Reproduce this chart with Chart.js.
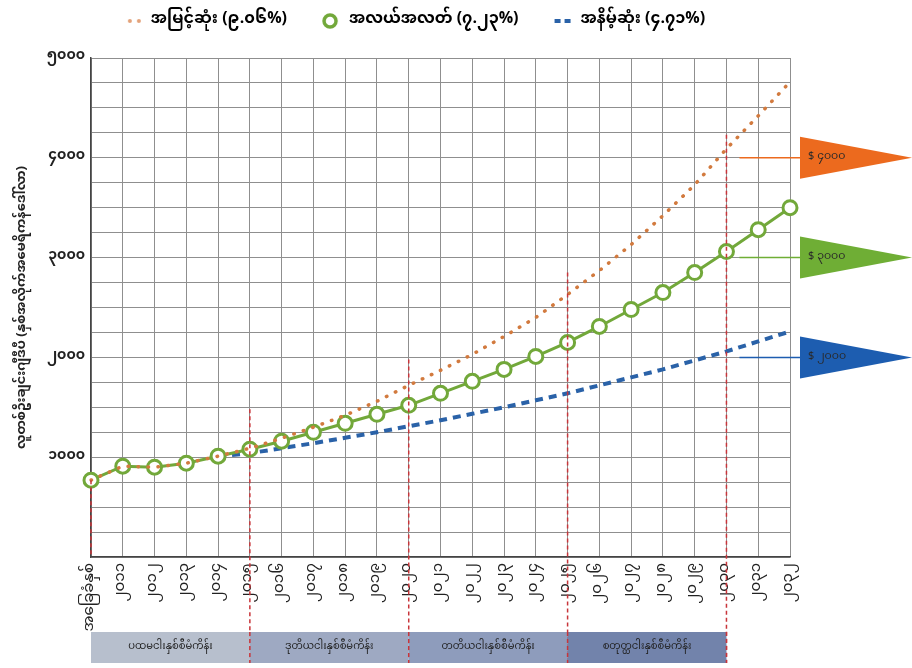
<!DOCTYPE html>
<html>
<head>
<meta charset="utf-8">
<script src="https://cdn.jsdelivr.net/npm/chart.js@4.4.0/dist/chart.umd.min.js"></script>
<style>
  body { margin: 0; background: #fff; }
  canvas { display: block; }
</style>
</head>
<body>
<canvas id="gdpChart" width="912" height="668"></canvas>
<script>
const FONT = "'Noto Sans Myanmar', 'Myanmar Text', 'Padauk', 'Noto Sans', sans-serif";

// x categories: base year then 2011..2032
const years = ['အခြေခံနှစ်', '၂၀၁၁', '၂၀၁၂', '၂၀၁၃', '၂၀၁၄', '၂၀၁၅', '၂၀၁၆', '၂၀၁၇', '၂၀၁၈', '၂၀၁၉',
  '၂၀၂၀', '၂၀၂၁', '၂၀၂၂', '၂၀၂၃', '၂၀၂၄', '၂၀၂၅', '၂၀၂၆', '၂၀၂၇', '၂၀၂၈', '၂၀၂၉',
  '၂၀၃၀', '၂၀၃၁', '၂၀၃၂'];

const highSeries = [770, 910, 900, 940, 1010, 1090, 1190, 1300, 1420, 1560, 1720, 1870,
  2030, 2210, 2400, 2630, 2870, 3130, 3420, 3730, 4090, 4420, 4760];
const midSeries = [770, 910, 900, 940, 1010, 1080, 1160, 1250, 1340, 1430, 1520, 1640,
  1760, 1880, 2010, 2150, 2310, 2480, 2650, 2850, 3060, 3280, 3500];
const lowSeries = [null, null, null, null, 1010, 1040, 1090, 1140, 1195, 1250, 1310, 1370,
  1435, 1500, 1570, 1640, 1720, 1800, 1880, 1970, 2060, 2160, 2260];

const seriesNames = ['အမြင့်ဆုံး (၉.၀၆%)', 'အလယ်အလတ် (၇.၂၃%)', 'အနိမ့်ဆုံး (၄.၇၁%)'];
const yTickLabels = ['', '၁၀၀၀', '၂၀၀၀', '၃၀၀၀', '၄၀၀၀', '၅၀၀၀'];
const yTitle = 'လူတစ်ဦးချင်းဂျီဒီပီ (နှစ်အလိုက်အမေရိကန်ဒေါ်လာ)';

// five-year plans shown in the band under the axis
const planNames = ['ပထမငါးနှစ်စီမံကိန်း', 'ဒုတိယငါးနှစ်စီမံကိန်း', 'တတိယငါးနှစ်စီမံကိန်း', 'စတုတ္ထငါးနှစ်စီမံကိန်း'];
const planStarts = [0, 5, 10, 15];
const dividerIdx = [0, 5, 10, 15, 20];
const dividerTops = [770, 1480, 1980, 2850, 4230];

// target flags on the right
const targetValues = [4000, 3000, 2000];
const targetLabels = ['$ ၄၀၀၀', '$ ၃၀၀၀', '$ ၂၀၀၀'];

const highColor = '#d27a3e';
const midColor = '#72a83a';
const lowColor = '#2a62a8';
const dividerColor = '#c8353a';
const flagColors = ['#ec6a1e', '#6fae35', '#1d5db0'];
const planColors = ['#b7bfcd', '#9ea9c2', '#8e9cbc', '#7283ab'];
const gridColor = '#8f8f8f';

// legend markers, drawn right-aligned in a wide box so the items get more room between them
const MARKER_W = 44;
function makeMarker(draw) {
  const c = document.createElement('canvas');
  c.width = MARKER_W;
  c.height = 18;
  draw(c.getContext('2d'));
  return c;
}
const dotsMarker = makeMarker(ctx => {
  ctx.fillStyle = '#e3a27a';
  [31, 40].forEach(x => { ctx.beginPath(); ctx.arc(x, 9, 2, 0, Math.PI * 2); ctx.fill(); });
});
const ringMarker = makeMarker(ctx => {
  ctx.strokeStyle = midColor;
  ctx.lineWidth = 3.5;
  ctx.beginPath();
  ctx.arc(33, 9, 6, 0, Math.PI * 2);
  ctx.stroke();
});
const dashMarker = makeMarker(ctx => {
  ctx.fillStyle = lowColor;
  ctx.fillRect(26, 7, 6, 4);
  ctx.fillRect(36, 7, 6, 4);
});

// empty layout box, used to leave room under the legend and right of the plot
function spacer(position, size, weight) {
  return {
    position,
    weight,
    fullSize: false,
    options: {},
    width: 0,
    height: 0,
    isHorizontal() { return position === 'top' || position === 'bottom'; },
    update(maxWidth, maxHeight) {
      if (this.isHorizontal()) { this.width = maxWidth; this.height = size; }
      else { this.width = size; this.height = maxHeight; }
    },
    draw() {}
  };
}

const spacerPlugin = {
  id: 'spacers',
  beforeInit(chart) {
    Chart.layouts.addBox(chart, spacer('top', 19, 500));
    Chart.layouts.addBox(chart, spacer('right', 2, 500));
  }
};

const decorPlugin = {
  id: 'decor',
  afterDatasetsDraw(chart) {
    const { ctx, chartArea, scales: { x, y } } = chart;
    ctx.save();
    ctx.strokeStyle = dividerColor;
    ctx.lineWidth = 1.5;
    ctx.setLineDash([4, 3]);
    dividerIdx.forEach((idx, i) => {
      const px = x.getPixelForValue(idx);
      const bottom = idx === 0 ? chartArea.bottom : chartArea.bottom + 106;
      ctx.beginPath();
      ctx.moveTo(px, y.getPixelForValue(dividerTops[i]));
      ctx.lineTo(px, bottom);
      ctx.stroke();
    });
    ctx.restore();
  },
  afterDraw(chart) {
    const { ctx, chartArea, scales: { x, y } } = chart;
    ctx.save();

    // plan band
    const top = chartArea.bottom + 75, h = 31;
    planNames.forEach((name, i) => {
      const x0 = x.getPixelForValue(planStarts[i]);
      const x1 = x.getPixelForValue(planStarts[i] + 5);
      ctx.fillStyle = planColors[i];
      ctx.fillRect(x0, top, x1 - x0, h);
      ctx.fillStyle = '#222';
      ctx.font = '10px ' + FONT;
      ctx.textAlign = 'center';
      ctx.textBaseline = 'middle';
      ctx.fillText(name, (x0 + x1) / 2, top + h / 2);
    });
    // redraw dividers over the band
    ctx.strokeStyle = dividerColor;
    ctx.lineWidth = 1.5;
    ctx.setLineDash([4, 3]);
    dividerIdx.slice(1).forEach(idx => {
      const px = x.getPixelForValue(idx);
      ctx.beginPath();
      ctx.moveTo(px, top);
      ctx.lineTo(px, top + h);
      ctx.stroke();
    });
    ctx.setLineDash([]);

    // flags with leader lines
    const flagLeft = chartArea.right + 10;
    const lineStart = x.getPixelForValue(20) + 13;
    targetValues.forEach((v, i) => {
      const py = y.getPixelForValue(v);
      ctx.strokeStyle = flagColors[i];
      ctx.lineWidth = 1.5;
      ctx.beginPath();
      ctx.moveTo(lineStart, py);
      ctx.lineTo(flagLeft, py);
      ctx.stroke();

      ctx.fillStyle = flagColors[i];
      ctx.beginPath();
      ctx.moveTo(flagLeft, py - 21);
      ctx.lineTo(chart.width, py);
      ctx.lineTo(flagLeft, py + 21);
      ctx.closePath();
      ctx.fill();

      ctx.fillStyle = '#2a2a2a';
      ctx.font = '11px ' + FONT;
      ctx.textAlign = 'left';
      ctx.textBaseline = 'middle';
      ctx.fillText(targetLabels[i], flagLeft + 8, py);
    });
    ctx.restore();
  }
};

new Chart(document.getElementById('gdpChart').getContext('2d'), {
  type: 'line',
  data: {
    labels: years,
    datasets: [
      {
        label: seriesNames[0],
        data: highSeries,
        borderColor: highColor,
        borderWidth: 3.5,
        borderDash: [0.5, 9.5],
        borderCapStyle: 'round',
        pointRadius: 0,
        fill: false
      },
      {
        label: seriesNames[1],
        data: midSeries,
        borderColor: midColor,
        borderWidth: 3,
        pointRadius: 7,
        pointBorderWidth: 3,
        pointBackgroundColor: '#ffffff',
        pointBorderColor: midColor,
        fill: false
      },
      {
        label: seriesNames[2],
        data: lowSeries,
        borderColor: lowColor,
        borderWidth: 4,
        borderDash: [8, 6],
        pointRadius: 0,
        fill: false
      }
    ]
  },
  options: {
    responsive: false,
    animation: false,
    layout: { padding: { left: 12, right: 120, top: 3, bottom: 0 } },
    plugins: {
      legend: {
        position: 'top',
        labels: {
          usePointStyle: true,
          pointStyleWidth: MARKER_W,
          boxHeight: 16,
          padding: 10,
          color: '#222',
          font: { family: FONT, size: 16, weight: 'bold' },
          generateLabels: () => [
            { text: seriesNames[0], pointStyle: dotsMarker, datasetIndex: 0 },
            { text: seriesNames[1], pointStyle: ringMarker, datasetIndex: 1 },
            { text: seriesNames[2], pointStyle: dashMarker, datasetIndex: 2 }
          ]
        }
      },
      tooltip: { enabled: false }
    },
    scales: {
      x: {
        grid: { color: gridColor, lineWidth: 1, drawTicks: false },
        border: { color: '#444', width: 1.5 },
        ticks: {
          autoSkip: false,
          minRotation: 90,
          maxRotation: 90,
          padding: 6,
          color: '#222',
          font: { family: FONT, size: 15 }
        },
        afterFit(scale) { scale.height = 111; }
      },
      y: {
        min: 0,
        max: 5000,
        grid: { color: gridColor, lineWidth: 1, drawTicks: false },
        border: { color: '#444', width: 1.5 },
        ticks: {
          stepSize: 250,
          padding: 6,
          color: '#222',
          font: { family: FONT, size: 14, weight: 'bold' },
          callback: v => (v % 1000 === 0 ? yTickLabels[v / 1000] : '')
        },
        title: {
          display: true,
          text: yTitle,
          color: '#222',
          font: { family: FONT, size: 13, weight: 'bold' }
        },
        afterFit(scale) { scale.width = 79; }
      }
    }
  },
  plugins: [spacerPlugin, decorPlugin]
});
</script>
</body>
</html>
